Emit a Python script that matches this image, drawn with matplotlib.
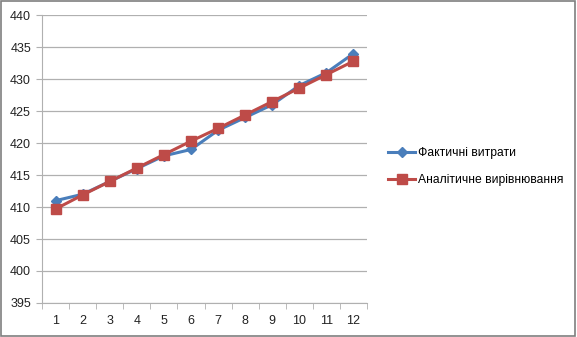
import matplotlib
matplotlib.use("Agg")
import matplotlib.pyplot as plt
from matplotlib.patches import Rectangle

periods = list(range(1, 13))
actual = [411, 412, 414, 416, 418, 419, 422, 424, 426, 429, 431, 434]
trend = [409.7, 411.9, 414.0, 416.1, 418.2, 420.3, 422.3, 424.4, 426.5, 428.6, 430.7, 432.8]
yticks = list(range(395, 441, 5))
series_names = ["Фактичні витрати", "Аналітичне вирівнювання"]

plt.rcParams["font.family"] = ["Liberation Sans", "DejaVu Sans"]

fig = plt.figure(figsize=(5.77, 3.37), dpi=100)
fig.patch.set_facecolor("white")
fig.patches.append(Rectangle((0.002, 0.003), 0.995, 0.993, transform=fig.transFigure,
                             fill=False, edgecolor="#7f7f7f", linewidth=1.2))

ax = fig.add_axes([0.073, 0.101, 0.563, 0.854])
ax.plot(periods, actual, color="#4a7ebb", linewidth=2.2, marker="D", markersize=5.5,
        label=series_names[0], zorder=3)
ax.plot(periods, trend, color="#be4b48", linewidth=2.2, marker="s", markersize=7.5,
        label=series_names[1], zorder=4)

ax.set_xlim(0.5, 12.5)
ax.set_ylim(395, 440)
ax.set_yticks(yticks)
ax.set_xticks(periods)
ax.set_xticks([p + 0.5 for p in range(0, 13)], minor=True)
ax.grid(axis="y", color="#b0b0b0", linewidth=0.9)
ax.set_axisbelow(True)
for side in ("top", "right"):
    ax.spines[side].set_visible(False)
for side in ("left", "bottom"):
    ax.spines[side].set_color("#b0b0b0")
ax.tick_params(axis="x", which="major", length=0, pad=9, labelsize=9, colors="#222222")
ax.tick_params(axis="x", which="minor", length=4, color="#b0b0b0")
ax.tick_params(axis="y", length=4, color="#b0b0b0", labelsize=9, colors="#222222", pad=4)

fig.legend(loc="center left", bbox_to_anchor=(0.653, 0.505), frameon=False,
           fontsize=8.7, handlelength=2.3, handletextpad=0.2, labelspacing=1.25)

fig.savefig("out.png", dpi=100)
